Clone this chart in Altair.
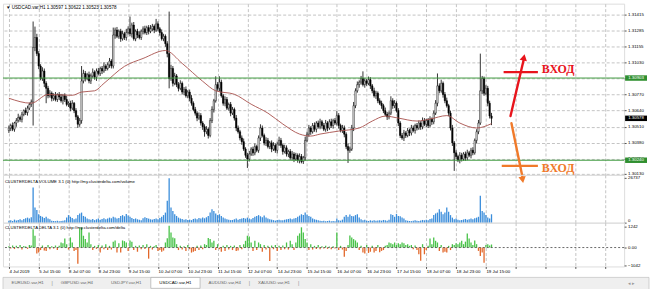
import altair as alt
import pandas as pd

# ------------------------------------------------------------------ data
BASE = 1.30000          # prices below are given in points above 1.30000
first_open_pts = 480
close_pts = [
    500, 520, 490, 540, 560, 585, 570, 610, 640, 625,
    660, 690, 710, 1150, 1230, 1100, 1000, 900, 960, 860,
    820, 760, 780, 740, 760, 730, 770, 750, 720, 760,
    730, 690, 700, 660, 700, 640, 590, 530, 560, 880,
    940, 900, 930, 880, 920, 950, 910, 960, 940, 980,
    960, 1000, 980, 1010, 1040, 1000, 1250, 1290, 1240, 1280,
    1220, 1260, 1230, 1270, 1300, 1260, 1330, 1220, 1280, 1250,
    1230, 1280, 1300, 1270, 1310, 1280, 1300, 1320, 1290, 1340,
    1300, 1270, 1220, 1240, 1180, 1100, 900, 980, 860, 920,
    850, 820, 860, 790, 810, 760, 790, 740, 700, 650,
    620, 580, 600, 540, 510, 470, 490, 440, 560, 650,
    720, 850, 820, 870, 760, 700, 730, 660, 690, 620,
    650, 580, 500, 470, 420, 390, 330, 280, 250, 290,
    330, 300, 350, 320, 420, 500, 440, 380, 400, 350,
    380, 330, 360, 320, 370, 400, 360, 310, 340, 290,
    310, 260, 290, 250, 280, 240, 270, 230, 260, 400,
    450, 500, 470, 520, 490, 540, 510, 550, 520, 490,
    540, 500, 550, 520, 560, 540, 600, 520, 480, 500,
    450, 350, 320, 330, 500, 680, 800, 850, 870, 900,
    850, 880, 860, 890, 840, 800, 760, 780, 720, 700,
    680, 640, 610, 590, 620, 720, 680, 700, 640, 540,
    440, 420, 460, 440, 480, 460, 500, 480, 520, 500,
    540, 510, 560, 530, 560, 520, 570, 550, 620, 700,
    840, 800, 860, 770, 720, 680, 620, 500, 380, 300,
    270, 240, 280, 250, 290, 260, 300, 280, 320, 300,
    400, 470, 540, 800, 900, 780, 820, 700, 597, 578,
]
# wick length above the body / below the body (points)
up_wick = [
    20, 15, 25, 10, 20, 30, 15, 20, 10, 25,
    20, 15, 20, 209, 88, 30, 20, 15, 30, 20,
    17, 20, 25, 15, 20, 30, 10, 20, 25, 15,
    20, 30, 15, 20, 25, 10, 20, 15, 20, 120,
    30, 20, 15, 25, 20, 30, 15, 20, 25, 15,
    20, 30, 15, 20, 25, 15, 60, 20, 25, 15,
    20, 25, 15, 30, 20, 99, 20, 25, 15, 20,
    30, 15, 20, 25, 15, 20, 30, 20, 15, 40,
    20, 15, 25, 20, 15, 20, 339, 30, 20, 25,
    15, 20, 25, 15, 20, 25, 15, 20, 25, 15,
    20, 15, 25, 20, 15, 20, 25, 15, 20, 25,
    15, 67, 20, 47, 20, 15, 25, 20, 15, 20,
    20, 15, 25, 20, 15, 20, 25, 15, 20, 25,
    15, 20, 25, 15, 20, 30, 20, 15, 25, 20,
    15, 20, 25, 15, 20, 30, 20, 15, 25, 20,
    15, 20, 25, 15, 20, 15, 25, 20, 15, 30,
    20, 25, 15, 20, 25, 15, 20, 25, 15, 20,
    25, 15, 20, 25, 15, 20, 36, 20, 15, 25,
    20, 15, 25, 20, 25, 30, 20, 25, 15, 20,
    57, 20, 15, 25, 20, 15, 25, 20, 15, 20,
    20, 15, 25, 20, 15, 36, 20, 25, 15, 20,
    15, 20, 25, 15, 20, 15, 25, 20, 15, 20,
    20, 15, 25, 20, 15, 20, 25, 15, 20, 25,
    100, 20, 30, 15, 20, 25, 15, 20, 25, 15,
    20, 15, 25, 20, 15, 20, 25, 15, 20, 25,
    15, 20, 25, 300, 20, 15, 25, 20, 20, 25,
]
dn_wick = [
    20, 25, 15, 20, 30, 15, 20, 25, 15, 20,
    25, 15, 20, 190, 30, 20, 25, 15, 20, 30,
    120, 20, 15, 25, 20, 15, 20, 25, 15, 30,
    20, 15, 20, 25, 15, 20, 25, 30, 20, 25,
    20, 25, 15, 20, 25, 15, 20, 30, 15, 20,
    25, 15, 20, 15, 25, 20, 20, 30, 15, 20,
    25, 15, 20, 25, 15, 20, 30, 15, 20, 25,
    15, 20, 25, 15, 20, 25, 15, 20, 25, 15,
    20, 25, 15, 20, 25, 30, 80, 20, 25, 15,
    20, 25, 15, 20, 25, 15, 20, 25, 20, 15,
    20, 25, 15, 20, 25, 40, 20, 25, 15, 20,
    25, 15, 20, 25, 15, 20, 25, 15, 20, 25,
    15, 20, 25, 15, 20, 25, 15, 20, 72, 20,
    15, 25, 20, 15, 20, 25, 15, 20, 25, 15,
    20, 25, 15, 20, 25, 15, 20, 25, 15, 20,
    25, 15, 20, 25, 15, 20, 25, 15, 20, 25,
    15, 20, 25, 15, 20, 25, 15, 20, 25, 15,
    20, 25, 15, 20, 25, 15, 20, 25, 15, 20,
    25, 20, 102, 20, 15, 25, 20, 15, 25, 20,
    15, 25, 20, 15, 25, 20, 15, 25, 20, 15,
    25, 20, 15, 25, 20, 15, 25, 20, 15, 25,
    20, 15, 25, 20, 15, 25, 20, 15, 25, 20,
    15, 25, 20, 15, 25, 20, 15, 25, 20, 15,
    25, 20, 15, 25, 20, 15, 25, 20, 25, 146,
    20, 15, 25, 20, 15, 25, 20, 15, 25, 20,
    15, 25, 20, 15, 25, 20, 15, 25, 20, 55,
]
volume = [
    1200, 1500, 1000, 1800, 1300, 1600, 2000, 1400, 2200, 2600,
    3000, 2500, 3200, 21000, 9000, 7500, 5000, 4000, 3500, 2800,
    3500, 2500, 2000, 1200, 1000, 900, 1100, 800, 1000, 1200,
    1500, 3000, 4500, 3500, 2800, 2000, 2500, 4500, 5500, 6000,
    4000, 3500, 2500, 2000, 1800, 2200, 1500, 2000, 2500, 1800,
    2200, 2600, 2000, 2400, 3000, 2600, 3500, 3000, 2500, 2800,
    4000, 4500, 3800, 5200, 4200, 3500, 2800, 2200, 2500, 2000,
    1800, 1500, 2600, 3200, 2800, 2400, 2000, 1800, 2200, 2500,
    2000, 2800, 3500, 4500, 6000, 13000, 26500, 9000, 7000, 5000,
    4000, 3000, 2500, 2200, 1800, 2000, 1600, 1800, 1500, 2200,
    2500, 2000, 2800, 2500, 3000, 2600, 3200, 4000, 6000, 8000,
    7000, 5500, 4500, 5000, 4000, 3000, 2500, 2000, 1800, 1500,
    1600, 2000, 2500, 1800, 2200, 2500, 2800, 2400, 3000, 2500,
    2000, 2800, 3500, 4000, 4500, 3800, 3200, 4200, 3000, 2500,
    2000, 1800, 1500, 1200, 1600, 1800, 1400, 1500, 1800, 2000,
    2200, 2500, 2000, 2400, 2800, 3500, 4200, 5000, 4500, 6000,
    4800, 4000, 3500, 2500, 2000, 1800, 1500, 1200, 1000, 1100,
    900, 1000, 1200, 800, 1000, 900, 2500, 1500, 1200, 1800,
    3500, 4500, 3500, 4800, 4000, 3800, 4500, 5000, 3000, 2000,
    1500, 1800, 1200, 1000, 1400, 1200, 1500, 1100, 1300, 1500,
    1200, 1600, 1400, 1200, 1800, 5000, 4500, 3500, 5200, 4000,
    3800, 3000, 2500, 1500, 1200, 1000, 900, 1100, 1400, 1200,
    1000, 1300, 1600, 1400, 1800, 1500, 2200, 2500, 4500, 5500,
    6000, 8000, 6500, 5000, 6000, 9000, 6500, 4500, 3000, 2000,
    2500, 1800, 1500, 1600, 1900, 2200, 1800, 2000, 2400, 2000,
    2600, 3000, 3500, 16000, 7000, 6000, 4500, 3000, 2500, 5000,
]
delta = [
    80, -60, 120, -90, 100, -40, 150, -120, 90, 60,
    -80, 150, 120, 1080, 700, -360, -300, -150, 120, -180,
    -200, 150, -100, 80, -60, 120, -150, 100, 300, 250,
    540, 200, -120, 600, 300, -200, -150, -960, 1140, 1200,
    700, 500, 300, 900, 200, -150, 100, -80, 150, -300,
    120, -100, 200, -150, 100, -120, 350, 420, -300, 250,
    -300, 420, 380, 300, -200, 420, 350, -150, 100, -250,
    120, -100, 150, -80, 200, -660, 100, -120, 80, 150,
    -200, -150, -250, -180, 300, 550, 1300, 900, 600, 550,
    200, -150, 100, -120, 80, -200, 150, -100, -300, -250,
    -200, 100, -150, 120, -100, 200, 150, 560, 500, 300,
    400, -150, 200, -100, -250, 100, -200, 150, -120, 100,
    -150, 120, -200, -180, 150, -100, 200, 400, 700, 650,
    300, -200, 400, -150, 300, 200, -250, 150, -120, 100,
    -800, 120, -100, 150, -200, 100, -150, 120, -100, 300,
    -120, 400, 200, -150, 300, 700, 840, 1200, 900, 500,
    300, -150, 200, -120, 100, -80, 150, -100, 80, -60,
    100, -80, 60, -100, 80, -60, 900, -150, 100, -120,
    -540, -200, 150, 720, 600, 500, 420, 300, -150, 100,
    -300, -360, 150, -320, -250, 100, -300, -200, 150, -280,
    -200, -150, 100, 150, 300, 250, 200, 300, 150, 250,
    200, 300, 250, 150, 200, 100, 150, -100, 120, -150,
    -400, -780, 200, -400, -150, 100, 540, 200, 600, 400,
    300, -200, 150, -300, -250, -300, 100, -150, 200, 150,
    250, 200, 300, 400, 200, 350, 840, 540, 300, 150,
    420, 200, -200, -500, -300, -900, 150, 200, 120, 180,
]
# moving average (candle index, points)
ma_idx = [0, 12, 21, 34, 39, 46, 51, 62, 72, 84, 93, 104, 111, 121, 130, 139,
          147, 156, 162, 167, 177, 188, 195, 202, 209, 219, 226, 235, 242, 251, 259]
ma_pts = [740, 700, 770, 764, 790, 800, 860, 997, 1061, 1125, 1021, 877, 800, 772, 692, 620,
          532, 451, 435, 451, 475, 500, 556, 596, 580, 556, 572, 600, 540, 500, 535]

date_labels = ["4 Jul 2019", "5 Jul 15:00", "8 Jul 07:00", "8 Jul 23:00", "9 Jul 15:00",
               "10 Jul 07:00", "10 Jul 23:00", "11 Jul 15:00", "12 Jul 07:00", "14 Jul 23:00",
               "15 Jul 15:00", "16 Jul 07:00", "16 Jul 23:00", "17 Jul 15:00", "18 Jul 07:00",
               "18 Jul 23:00", "19 Jul 15:00"]
label_step = 16
price_ticks = [1.30130, 1.30250, 1.30380, 1.30510, 1.30640, 1.30770, 1.30900,
               1.31030, 1.31155, 1.31285, 1.31415]
level_prices = [1.30903, 1.30240]
level_texts = ["1.30903", "1.30240"]
last_price = 1.30578
last_text = "1.30578"
header = "\u25BC USDCAD.var,H1  1.30597 1.30622 1.30523 1.30578"
vol_caption = "CLUSTERDELTA VOLUME 3.1 (0) http://my.clusterdelta.com/volume"
delta_caption = "CLUSTERDELTA DELTA 3.1 (0) http://my.clusterdelta.com/delta"
vol_ticks = [0, 26737]
delta_ticks = [-1042, 0, 1242]
tabs = ["EURUSD.var,H1", "GBPUSD.var,H4", "USDJPY.var,H1", "USDCAD.var,H1",
        "AUDUSD.var,H4", "XAUUSD.var,H1"]
active_tab = "USDCAD.var,H1"

# annotations (candle index / price)
arrow_i0 = [269.2, 269.7]
arrow_p0 = [1.30596, 1.30539]
arrow_i1 = [276.3, 275.6]
arrow_p1 = [1.31053, 1.30106]
head_i = [276.4, 275.7]
head_p = [1.31069, 1.30082]
head_shape = ["triangle-up", "triangle-down"]
head_angle = [12, 350]
entry_i0 = [265.5, 264.5]
entry_i1 = [283.9, 283.9]
entry_p = [1.30951, 1.30194]
entry_text_i = [286.0, 286.0]
entry_text_p = [1.30973, 1.30178]
entry_text = ["ВХОД", "ВХОД"]
ann_color = ["#e8141c", "#f07a2a"]

# ------------------------------------------------------------------ tables
n = len(close_pts)
opens = [first_open_pts] + close_pts[:-1]
rows = []
for k in range(n):
    o, c = opens[k], close_pts[k]
    rows.append(dict(
        i=k,
        open=BASE + o / 1e5, close=BASE + c / 1e5,
        high=BASE + (max(o, c) + up_wick[k]) / 1e5,
        low=BASE + (min(o, c) - dn_wick[k]) / 1e5,
        vol=volume[k], delta=delta[k]))
df = pd.DataFrame(rows)
ma_df = pd.DataFrame({"i": ma_idx, "p": [BASE + v / 1e5 for v in ma_pts]})
lev_df = pd.DataFrame({"p": level_prices, "t": level_texts})
last_df = pd.DataFrame({"p": [last_price], "t": [last_text]})
arr_df = pd.DataFrame({"i0": arrow_i0, "p0": arrow_p0, "i1": arrow_i1, "p1": arrow_p1, "c": ann_color})
head_df = pd.DataFrame({"i": head_i, "p": head_p, "s": head_shape, "a": head_angle, "c": ann_color})
entry_df = pd.DataFrame({"i0": entry_i0, "i1": entry_i1, "p": entry_p, "c": ann_color})
etext_df = pd.DataFrame({"i": entry_text_i, "p": entry_text_p, "t": entry_text, "c": ann_color})
tab_df = pd.DataFrame({"tab": tabs})

# ------------------------------------------------------------------ style
FONT = "Liberation Sans"
W = 624
X_SCALE = alt.Scale(domain=[-0.5, 327.5], nice=False, zero=False)
Y_MAIN = alt.Scale(domain=[1.30122, 1.31503], nice=False, zero=False)
Y_VOL = alt.Scale(domain=[0, 28500], nice=False)
Y_DEL = alt.Scale(domain=[-1123, 1478], nice=False)
GRID = "#c4c4c4"
GDASH = [3, 2]
grid_vals = list(range(0, 328, label_step))
LBL = dict(labelFont=FONT, labelFontSize=4.4, labelColor="#000000", tickColor="#555555",
           tickSize=2, labelPadding=1.5, domain=False, title=None, labelOverlap=False,
           labelBound=False, labelFlush=False, tickCount=100)

x_nolab = alt.Axis(grid=True, labels=False, ticks=False, domain=False, values=grid_vals,
                   title=None, gridColor=GRID, gridDash=GDASH, gridOpacity=1, gridWidth=1,
                   tickCount=100)

# ------------------------------------------------------------------ main panel
wicks = alt.Chart(df).mark_rule(color="#000000", strokeWidth=0.8).encode(
    x=alt.X("i:Q", scale=X_SCALE, axis=x_nolab),
    y=alt.Y("low:Q", scale=Y_MAIN,
            axis=alt.Axis(orient="right", values=price_ticks, grid=True, gridColor=GRID,
                          gridDash=GDASH, gridOpacity=1, gridWidth=1,
                          labelExpr="abs(datum.value - 1.309) < 0.000005 ? '' : format(datum.value, '.5f')",
                          **LBL)),
    y2="high:Q",
)
bodies = alt.Chart(df).mark_bar(width=1.4, stroke="#000000", strokeWidth=0.5).encode(
    x=alt.X("i:Q", scale=X_SCALE),
    y=alt.Y("open:Q", scale=Y_MAIN),
    y2="close:Q",
    fill=alt.condition("datum.close >= datum.open", alt.value("#ffffff"), alt.value("#000000")),
)
ma_line = alt.Chart(ma_df).mark_line(color="#a8504c", strokeWidth=0.9, interpolate="monotone").encode(
    x=alt.X("i:Q", scale=X_SCALE), y=alt.Y("p:Q", scale=Y_MAIN))
levels = alt.Chart(lev_df).mark_rule(color="#3f9a3f", strokeWidth=1).encode(
    y=alt.Y("p:Q", scale=Y_MAIN))
lev_box = alt.Chart(lev_df).transform_calculate(
    lo="datum.p - 0.00022", hi="datum.p + 0.00022").mark_rect(color="#2f8f2f").encode(
    x=alt.value(625), x2=alt.value(647), y=alt.Y("lo:Q", scale=Y_MAIN), y2="hi:Q")
lev_txt = alt.Chart(lev_df).mark_text(font=FONT, fontSize=4.4, color="#ffffff").encode(
    x=alt.value(636), y=alt.Y("p:Q", scale=Y_MAIN), text="t:N")
last_box = alt.Chart(last_df).transform_calculate(
    lo="datum.p - 0.00022", hi="datum.p + 0.00022").mark_rect(color="#000000").encode(
    x=alt.value(625), x2=alt.value(647), y=alt.Y("lo:Q", scale=Y_MAIN), y2="hi:Q")
last_txt = alt.Chart(last_df).mark_text(font=FONT, fontSize=4.4, color="#ffffff").encode(
    x=alt.value(636), y=alt.Y("p:Q", scale=Y_MAIN), text="t:N")
arrows = alt.Chart(arr_df).mark_rule(strokeWidth=2.4, strokeCap="round").encode(
    x=alt.X("i0:Q", scale=X_SCALE), x2="i1:Q",
    y=alt.Y("p0:Q", scale=Y_MAIN), y2="p1:Q",
    color=alt.Color("c:N", scale=None))
heads = alt.Chart(head_df).mark_point(filled=True, size=55, opacity=1).encode(
    x=alt.X("i:Q", scale=X_SCALE), y=alt.Y("p:Q", scale=Y_MAIN),
    shape=alt.Shape("s:N", scale=None), angle=alt.Angle("a:Q", scale=None),
    color=alt.Color("c:N", scale=None))
entries = alt.Chart(entry_df).mark_rule(strokeWidth=2.2).encode(
    x=alt.X("i0:Q", scale=X_SCALE), x2="i1:Q", y=alt.Y("p:Q", scale=Y_MAIN),
    color=alt.Color("c:N", scale=None))
etexts = alt.Chart(etext_df).mark_text(font="Liberation Serif", fontSize=12, fontWeight="bold",
                                       align="left", baseline="middle").encode(
    x=alt.X("i:Q", scale=X_SCALE), y=alt.Y("p:Q", scale=Y_MAIN), text="t:N",
    color=alt.Color("c:N", scale=None))
head_txt = alt.Chart(pd.DataFrame({"t": [header]})).mark_text(
    font=FONT, fontSize=4.6, color="#000000", align="left", baseline="middle").encode(
    x=alt.value(3), y=alt.value(4), text="t:N")

main = alt.layer(wicks, bodies, ma_line, levels, lev_box, lev_txt, last_box, last_txt,
                 arrows, heads, entries, etexts, head_txt).properties(width=W, height=172)

# ------------------------------------------------------------------ volume panel
vol_bars = alt.Chart(df).mark_bar(width=1.3, color="#3a8ddb").encode(
    x=alt.X("i:Q", scale=X_SCALE, axis=x_nolab),
    y=alt.Y("vol:Q", scale=Y_VOL,
            axis=alt.Axis(orient="right", values=vol_ticks, grid=False, format="d",
                          labelBaseline={"condition": {"test": "datum.value == 0", "value": "bottom"},
                                         "value": "middle"},
                          **LBL)))
vol_cap = alt.Chart(pd.DataFrame({"t": [vol_caption]})).mark_text(
    font=FONT, fontSize=4.3, color="#000000", align="left", baseline="middle").encode(
    x=alt.value(2), y=alt.value(7), text="t:N")
vol = alt.layer(vol_bars, vol_cap).properties(width=W, height=48)

# ------------------------------------------------------------------ delta panel
labels_js = "[" + ",".join("'" + s + "'" for s in date_labels) + "]"
del_bars = alt.Chart(df).mark_bar(width=1.3).encode(
    x=alt.X("i:Q", scale=X_SCALE,
            axis=alt.Axis(orient="bottom", values=grid_vals, grid=True, gridColor=GRID,
                          gridDash=GDASH, gridOpacity=1, gridWidth=1,
                          labelAlign="left", labelBaseline="top",
                          labelExpr=labels_js + "[round(datum.value / " + str(label_step) + ")] || ''",
                          labelFont=FONT, labelFontSize=4.4, labelColor="#000000",
                          tickColor="#555555", tickSize=2, labelPadding=1, domain=False,
                          title=None, labelOverlap=False, labelFlush=False, labelBound=False,
                          tickCount=100)),
    y=alt.Y("delta:Q", scale=Y_DEL,
            axis=alt.Axis(orient="right", values=delta_ticks, grid=False,
                          labelExpr="datum.value == 0 ? '0.00' : format(datum.value, 'd')",
                          **LBL)),
    color=alt.condition("datum.delta >= 0", alt.value("#48c248"), alt.value("#e2672a")),
)
zero = alt.Chart(pd.DataFrame({"z": [0]})).mark_rule(color="#444444", strokeDash=[2, 2],
                                                     strokeWidth=0.8).encode(
    y=alt.Y("z:Q", scale=Y_DEL))
del_cap = alt.Chart(pd.DataFrame({"t": [delta_caption]})).mark_text(
    font=FONT, fontSize=4.3, color="#000000", align="left", baseline="middle").encode(
    x=alt.value(2), y=alt.value(5), text="t:N")
delt = alt.layer(del_bars, zero, del_cap).properties(width=W, height=44)

# ------------------------------------------------------------------ tab bar
TX = alt.X("tab:N", sort=tabs, scale=alt.Scale(paddingInner=0, paddingOuter=0), axis=None)
tab_bg = alt.Chart(pd.DataFrame({"t": [0]})).mark_rect(color="#efefef", stroke="#b8b8b8",
                                                      strokeWidth=0.6).encode(
    x=alt.value(0), x2=alt.value(649), y=alt.value(11), y2=alt.value(24))
tab_active = alt.Chart(tab_df).transform_filter(
    alt.datum.tab == active_tab).mark_rect(fill="#ffffff", stroke="#a0a0a0", strokeWidth=0.6).encode(
    x=TX, y=alt.value(11), y2=alt.value(22))
tab_text = alt.Chart(tab_df).mark_text(font=FONT, fontSize=4.4, color="#555555").encode(
    x=TX, y=alt.value(17), text="tab:N",
    color=alt.condition(alt.datum.tab == active_tab, alt.value("#000000"), alt.value("#666666")))
tab_sep = alt.Chart(tab_df).transform_filter(
    "indexof(['GBPUSD.var,H4','USDJPY.var,H1','USDCAD.var,H1'], datum.tab) < 0").mark_text(
    font=FONT, fontSize=5, color="#888888", dx=24.75, text="|").encode(x=TX, y=alt.value(17))
tab_scroll = alt.Chart(pd.DataFrame({"t": ["\u25C2  \u25B8"]})).mark_text(
    font=FONT, fontSize=5, color="#999999", align="left").encode(
    x=alt.value(628), y=alt.value(17), text="t:N")
tabbar = alt.layer(tab_bg, tab_active, tab_text, tab_sep, tab_scroll).properties(
    width=297, height=23, view=alt.ViewBackground(stroke="transparent"))

chart = alt.vconcat(main, vol, delt, tabbar, spacing=0, bounds="flush").properties(
    padding={"left": 2, "top": 2, "right": 0, "bottom": 0}
).configure_view(stroke="#6c6c6c", strokeWidth=2).configure(background="#ffffff")

chart.save("out.html", embed_options={"renderer": "svg", "actions": False})
